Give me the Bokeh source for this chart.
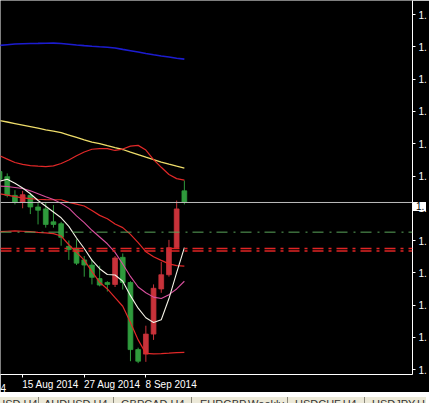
from bokeh.plotting import figure
from bokeh.models import Range1d, FixedTicker, Span, Div, CustomJSTickFormatter, LinearAxis
from bokeh.layouts import column
from bokeh.embed import file_html
from bokeh.resources import INLINE
import numpy as np

# ---- data (daily candles, 12 Aug 2014 .. 15 Sep 2014) ----
dates = ["12 Aug", "13 Aug", "14 Aug", "15 Aug", "18 Aug", "19 Aug", "20 Aug", "21 Aug",
         "22 Aug", "25 Aug", "26 Aug", "27 Aug", "28 Aug", "29 Aug", "1 Sep", "2 Sep",
         "3 Sep", "4 Sep", "5 Sep", "8 Sep", "9 Sep", "10 Sep", "11 Sep", "12 Sep", "15 Sep"]
opens = [1.3307, 1.3299, 1.3270, 1.3259, 1.3270, 1.3252, 1.3249, 1.3229, 1.3226, 1.3191,
         1.3188, 1.3170, 1.3162, 1.3141, 1.3135, 1.3132, 1.3174, 1.3135, 1.3031, 1.3024,
         1.3055, 1.3125, 1.3147, 1.3189, 1.3277]
highs = [1.3311, 1.3304, 1.3278, 1.3277, 1.3274, 1.3258, 1.3258, 1.3255, 1.3229, 1.3200,
         1.3202, 1.3176, 1.3171, 1.3161, 1.3137, 1.3176, 1.3180, 1.3137, 1.3034, 1.3068,
         1.3132, 1.3167, 1.3201, 1.3262, 1.3293]
lows = [1.3289, 1.3267, 1.3256, 1.3250, 1.3241, 1.3225, 1.3220, 1.3220, 1.3192, 1.3170,
        1.3162, 1.3144, 1.3132, 1.3129, 1.3121, 1.3128, 1.3124, 1.3013, 1.3010, 1.3012,
        1.3046, 1.3119, 1.3144, 1.3188, 1.3256]
closes = [1.3295, 1.3270, 1.3259, 1.3271, 1.3252, 1.3247, 1.3225, 1.3225, 1.3205, 1.3186,
          1.3165, 1.3162, 1.3143, 1.3131, 1.3132, 1.3173, 1.3135, 1.3031, 1.3013, 1.3055,
          1.3126, 1.3147, 1.3189, 1.3249, 1.3259]

blue_ma = [1.35023, 1.35035, 1.35045, 1.35050, 1.35053, 1.35055, 1.35058, 1.35060, 1.35053,
           1.35042, 1.35030, 1.35020, 1.35011, 1.35003, 1.34996, 1.34985, 1.34963, 1.34942,
           1.34921, 1.34898, 1.34878, 1.34860, 1.34844, 1.34826, 1.34811]
yellow_ma = [1.33860, 1.33837, 1.33813, 1.33789, 1.33765, 1.33741, 1.33716, 1.33694, 1.33671,
             1.33634, 1.33597, 1.33560, 1.33525, 1.33503, 1.33470, 1.33440, 1.33411, 1.33370,
             1.33332, 1.33291, 1.33254, 1.33217, 1.33183, 1.33153, 1.33124]
bb_upper = [1.33314, 1.33262, 1.33209, 1.33180, 1.33162, 1.33153, 1.33147, 1.33157, 1.33194,
            1.33247, 1.33314, 1.33373, 1.33415, 1.33425, 1.33425, 1.33396, 1.33418, 1.33463,
            1.33475, 1.33403, 1.33254, 1.33135, 1.33023, 1.32960, 1.32937]
bb_mid = [1.32726, 1.32703, 1.32680, 1.32662, 1.32650, 1.32640, 1.32633, 1.32632, 1.32632,
          1.32591, 1.32565, 1.32535, 1.32467, 1.32390, 1.32338, 1.32256, 1.32200, 1.32096,
          1.31968, 1.31828, 1.31749, 1.31692, 1.31639, 1.31611, 1.31602]
bb_lower = [1.32137, 1.32144, 1.32150, 1.32144, 1.32137, 1.32126, 1.32119, 1.32107, 1.32070,
            1.31935, 1.31816, 1.31697, 1.31518, 1.31354, 1.31250, 1.31116, 1.30982, 1.30729,
            1.30460, 1.30252, 1.30244, 1.30249, 1.30255, 1.30262, 1.30267]
pink_ma = [1.32844, 1.32837, 1.32822, 1.32807, 1.32770, 1.32725, 1.32680, 1.32636, 1.32576,
           1.32502, 1.32382, 1.32278, 1.32159, 1.32055, 1.31950, 1.31816, 1.31637, 1.31444,
           1.31280, 1.31190, 1.31123, 1.31101, 1.31161, 1.31250, 1.31369]
white_ma = [1.32919, 1.32949, 1.32889, 1.32815, 1.32725, 1.32621, 1.32531, 1.32442, 1.32353,
            1.32219, 1.32040, 1.31876, 1.31697, 1.31563, 1.31474, 1.31466, 1.31369, 1.31146,
            1.30952, 1.30803, 1.30729, 1.30773, 1.31101, 1.31503, 1.31891]

bid_price = 1.3259
green_level = 1.3213
red_levels = [1.31876, 1.31838]

y_ticks = [1.3000, 1.3050, 1.3100, 1.3150, 1.3200, 1.3250, 1.3300, 1.3350, 1.3400,
           1.3450, 1.3500, 1.3550]
date_tick_idx = [3, 11, 19]
date_tick_labels = ["15 Aug 2014", "27 Aug 2014", "8 Sep 2014"]
prev_date_label = "5 Aug 2014"   # previous date mark, mostly off the left edge

tab_names = ["EURUSD,H4", "AUDUSD,H4", "GBPCAD,H4", "EURGBP,Weekly", "USDCHF,H4", "USDJPY,H4"]

# ---- figure ----
FONT = "Liberation Sans"
Y0, Y1 = 1.29924, 1.3572
FRAME_W, FRAME_H = 412, 374
p = figure(frame_width=FRAME_W, frame_height=FRAME_H, x_range=Range1d(0.125, 53.625),
           y_range=Range1d(Y0, Y1),
           output_backend="svg", toolbar_location=None, y_axis_location="right",
           background_fill_color="black", border_fill_color="black", outline_line_color=None,
           min_border_left=0, min_border_top=0, min_border_right=0, min_border_bottom=0)
p.grid.visible = False

ya = p.yaxis[0]
ya.ticker = FixedTicker(ticks=y_ticks)
ya.formatter = CustomJSTickFormatter(code="return '1.'")
ya.axis_line_color = "white"
ya.major_tick_line_color = "white"
ya.minor_tick_line_color = None
ya.major_tick_out = 3
ya.major_tick_in = 0
ya.major_label_standoff = 3
ya.major_label_text_color = "white"
ya.major_label_text_font = FONT
ya.major_label_text_font_size = "10px"

# tick marks of the time axis
xa = p.xaxis[0]
xa.ticker = FixedTicker(ticks=date_tick_idx)
xa.formatter = CustomJSTickFormatter(code="return ''")
xa.axis_line_color = "white"
xa.major_tick_line_color = "white"
xa.minor_tick_line_color = None
xa.major_tick_out = 3
xa.major_tick_in = 0
xa.major_label_standoff = 0
xa.major_label_text_font_size = "1px"

# date texts: MetaTrader writes them starting at the tick -> a label-only axis,
# each label centred half its width to the right of its tick
PX_PER_BAR = FRAME_W / 53.5
half_w = [28.0, 28.0, 25.3]
label_pos = [t + hw / PX_PER_BAR for t, hw in zip(date_tick_idx, half_w)]
xa2 = LinearAxis(
    ticker=FixedTicker(ticks=label_pos),
    formatter=CustomJSTickFormatter(
        args=dict(pos=label_pos, labels=date_tick_labels),
        code="for (let i = 0; i < pos.length; i++) { if (Math.abs(pos[i] - tick) < 1e-6) return labels[i]; } return '';"),
    axis_line_color=None, major_tick_line_color=None, minor_tick_line_color=None,
    major_tick_out=0, major_tick_in=0, major_label_standoff=1,
    major_label_text_color="white", major_label_text_font=FONT,
    major_label_text_font_size="10px")
p.add_layout(xa2, "below")

idx = np.arange(len(opens))
o = np.array(opens); c = np.array(closes)
colors = ["#C8323A" if cc > oo else "#2F9A3C" for oo, cc in zip(opens, closes)]

# levels
p.add_layout(Span(location=green_level, dimension="width", line_color="#5AA55A",
                  line_width=1, line_dash="11 6 2 5"))
for lv in red_levels:
    p.add_layout(Span(location=lv, dimension="width", line_color="#E02424",
                      line_width=1.5, line_dash="11 5 3 5"))

# candles
p.segment(idx, highs, idx, lows, line_color=colors, line_width=1)
p.vbar(x=idx, width=0.62, top=np.maximum(o, c), bottom=np.minimum(o, c),
       fill_color=colors, line_color=colors, line_width=0.8)

# indicators
p.line(idx, blue_ma, line_color="#1C1CD0", line_width=1.6)
p.line(idx, yellow_ma, line_color="#EEDC6A", line_width=1.3)
p.line(idx, bb_upper, line_color="#E02828", line_width=1.2)
p.line(idx, bb_mid, line_color="#E02828", line_width=1.2)
p.line(idx, bb_lower, line_color="#E02828", line_width=1.2)
p.line(idx, pink_ma, line_color="#D8509E", line_width=1.1)
p.line(idx, white_ma, line_color="#F4F2E6", line_width=1.1)

# bid line
p.add_layout(Span(location=bid_price, dimension="width", line_color="#BEBEBE", line_width=1))

# ---- tab bar (plus the bid price box on the price scale and the clipped date mark) ----
FIG_H = 391                      # frame + the two bottom axes
bid_y = FRAME_H * (Y1 - bid_price) / (Y1 - Y0)
box_top = round(bid_y - 5) - FIG_H
tab_left = [-26, 44, 121, 200, 295, 372]
tab_sep = [38, 113, 191, 287, 364]
spans = "".join(
    f'<span style="position:absolute;left:{l}px;top:1px;white-space:nowrap;">{t}</span>'
    for t, l in zip(tab_names, tab_left))
seps = "".join(
    f'<span style="position:absolute;left:{s}px;top:0;width:1px;height:8px;background:#8C897C;"></span>'
    for s in tab_sep)
box = (f'<div style="position:absolute;left:{FRAME_W + 1}px;top:{box_top}px;width:13px;height:9px;'
       f'background:#FFFFFF;color:#000;font-family:\'{FONT}\';font-size:10px;line-height:9px;'
       f'padding-left:3px;box-sizing:border-box;overflow:hidden;">1.</div>')
prev_mark = (f'<div style="position:absolute;left:0;top:-13px;width:8px;height:12px;overflow:hidden;">'
             f'<span style="position:absolute;right:2px;top:0;white-space:nowrap;color:#FFFFFF;'
             f'font-family:\'{FONT}\';font-size:10px;line-height:11px;">{prev_date_label}</span></div>')
html = (f'<div style="position:relative;width:426px;height:8px;">'
        f'<div style="position:absolute;left:0;top:0;width:426px;height:7px;overflow:hidden;'
        f'background:#ECE9D8;border-top:1px solid #FFFFFF;font-family:\'{FONT}\';font-size:11px;'
        f'line-height:12px;color:#333;">{seps}{spans}</div>{box}{prev_mark}</div>')
div = Div(text=html, width=426, height=8, margin=0, styles={"overflow": "visible"})

layout = column(p, div, spacing=0)
open("out.html", "w").write(file_html(layout, INLINE))
